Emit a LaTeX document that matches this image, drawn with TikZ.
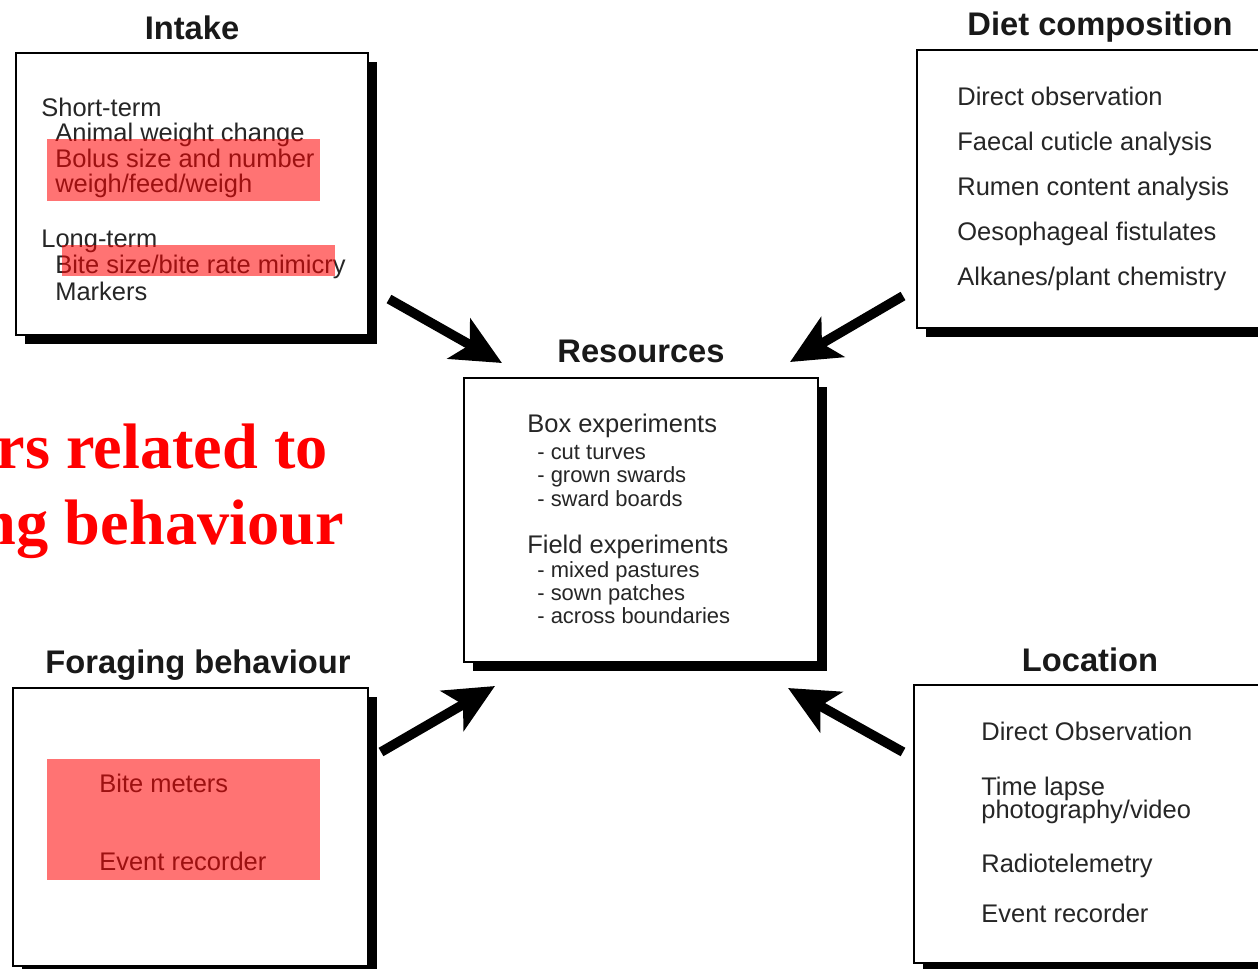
\documentclass[tikz,border=0pt]{standalone}
\usepackage{fontspec}
\setmainfont{Liberation Sans}
\newfontfamily\redserif{Liberation Serif}
\usetikzlibrary{arrows.meta,fit,shadows}
\newcommand\bodyfnt{\fontsize{14.5pt}{15pt}\selectfont}
\newcommand\subfnt{\fontsize{12.5pt}{13pt}\selectfont}
\newcommand\titlefnt{\fontsize{18.6pt}{20pt}\selectfont\bfseries}
\newcommand\redfnt{\fontsize{36.6pt}{38pt}\selectfont\redserif\bfseries}
\begin{document}
\begin{tikzpicture}[x=0.02cm,y=-0.02cm,
  box/.style={draw=black, line width=1.1pt, fill=white, inner sep=0pt,
    drop shadow={shadow xshift=5pt, shadow yshift=-5pt, fill=black, opacity=1}},
  txt/.style={anchor=base west, inner sep=0pt, font=\bodyfnt, text=black!85},
  subtxt/.style={anchor=base west, inner sep=0pt, font=\subfnt, text=black!85},
  ttl/.style={anchor=base, inner sep=0pt, font=\titlefnt, text=black!90},
  redtxt/.style={anchor=base east, inner sep=0pt, font=\redfnt, text=red},
  hilite/.style={fill=red, fill opacity=0.55, draw=none},
  bigarrow/.style={line width=5.5pt, line cap=butt, -{Stealth[length=28pt, width=26pt, inset=7pt]}}
]
\useasboundingbox (0,0) rectangle (1258,968);
\clip (0,0) rectangle (1258,968);
\fill[white] (0,0) rectangle (1258,968);

% boxes
\coordinate (i1) at (16,53);   \coordinate (i2) at (368,335);
\coordinate (d1) at (917,50);  \coordinate (d2) at (1290,328);
\coordinate (r1) at (464,378); \coordinate (r2) at (818,662);
\coordinate (f1) at (13,688);  \coordinate (f2) at (368,966);
\coordinate (l1) at (914,685); \coordinate (l2) at (1290,963);
\node[box, fit=(i1)(i2)] (intake) {};
\node[box, fit=(d1)(d2)] (diet) {};
\node[box, fit=(r1)(r2)] (res) {};
\node[box, fit=(f1)(f2)] (forage) {};
\node[box, fit=(l1)(l2)] (loc) {};

% titles
\node[ttl] (tIntake) at (192,39) {Intake};
\node[ttl] (tDiet) at (1100,35) {Diet composition};
\node[ttl] (tRes) at (641,362) {Resources};
\node[ttl] (tForage) at (198,673) {Foraging behaviour};
\node[ttl] (tLoc) at (1090,671) {Location};

% intake text
\node[txt] (in1) at (41,116) {Short-term};
\node[txt] (in2) at (55,141) {Animal weight change};
\node[txt] (in3) at (55,167) {Bolus size and number};
\node[txt] (in4) at (55,192) {weigh/feed/weigh};
\node[txt] (in5) at (41,247) {Long-term};
\node[txt] (in6) at (55,273) {Bite size/bite rate mimicry};
\node[txt] (in7) at (55,300) {Markers};
\fill[hilite] (47,139) rectangle (320,201);
\fill[hilite] (62,245) rectangle (335,276);

% diet text
\node[txt] (di1) at (957,105) {Direct observation};
\node[txt] (di2) at (957,150) {Faecal cuticle analysis};
\node[txt] (di3) at (957,195) {Rumen content analysis};
\node[txt] (di4) at (957,240) {Oesophageal fistulates};
\node[txt] (di5) at (957,285) {Alkanes/plant chemistry};

% resources text
\node[txt] (re1) at (527,432) {Box experiments};
\node[subtxt] (re2) at (537,459) {- cut turves};
\node[subtxt] (re3) at (537,482) {- grown swards};
\node[subtxt] (re4) at (537,506) {- sward boards};
\node[txt] (re5) at (527,553) {Field experiments};
\node[subtxt] (re6) at (537,577) {- mixed pastures};
\node[subtxt] (re7) at (537,600) {- sown patches};
\node[subtxt] (re8) at (537,623) {- across boundaries};

% foraging text
\node[txt] (fo1) at (99,792) {Bite meters};
\node[txt] (fo2) at (99,870) {Event recorder};
\fill[hilite] (47,759) rectangle (320,880);

% location text
\node[txt] (lo1) at (981,740) {Direct Observation};
\node[txt] (lo2) at (981,795) {Time lapse};
\node[txt] (lo3) at (981,818) {photography/video};
\node[txt] (lo4) at (981,872) {Radiotelemetry};
\node[txt] (lo5) at (981,922) {Event recorder};

% red title fragment (cut off at the left edge)
\node[redtxt] (red1) at (328,468) {rs related to};
\node[redtxt] (red2) at (344,544) {ng behaviour};

% arrows
\coordinate (aIs) at (389,299); \coordinate (aIe) at (502,363);
\coordinate (aDs) at (903,296); \coordinate (aDe) at (790,362);
\coordinate (aFs) at (381,752); \coordinate (aFe) at (495,686);
\coordinate (aLs) at (903,752); \coordinate (aLe) at (788,688);
\draw[bigarrow] (aIs) -- (aIe);
\draw[bigarrow] (aDs) -- (aDe);
\draw[bigarrow] (aFs) -- (aFe);
\draw[bigarrow] (aLs) -- (aLe);
\end{tikzpicture}
\end{document}
